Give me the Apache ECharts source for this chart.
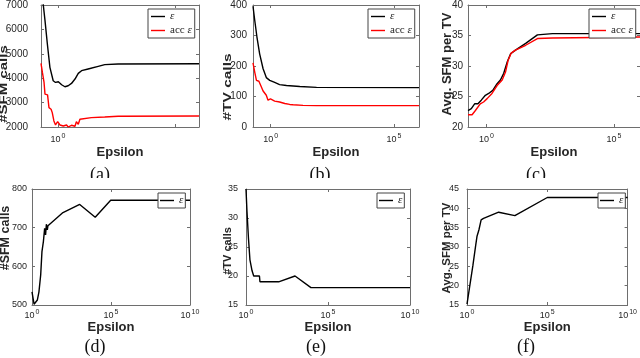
<!DOCTYPE html>
<html><head><meta charset="utf-8">
<script src="https://cdn.jsdelivr.net/npm/echarts@6/dist/echarts.min.js"></script>
<style>html,body{margin:0;padding:0;background:#fff}#c{width:640px;height:358px}</style>
</head><body><div id="c"></div>
<script>
// ---- data (x stored as log10(epsilon)) ----
const logEpsA_eps = [-0.72,-0.55,-0.45,-0.34,-0.20,-0.10,0.02,0.16,0.30,0.44,0.58,0.73,0.87,1.01,1.29,1.72,2.00,2.57,6.02];
const sfmA_eps    = [7850,6370,5410,4445,3896,3826,3855,3731,3650,3690,3785,3966,4197,4308,4378,4486,4556,4585,4590];
const logEpsA_acc = [-0.72,-0.66,-0.59,-0.55,-0.44,-0.38,-0.29,-0.24,-0.17,-0.10,-0.01,0.09,0.23,0.37,0.44,0.58,0.73,0.79,0.87,0.94,1.01,1.43,2.00,2.57,6.02];
const sfmA_acc    = [4609,4238,3826,3348,3319,2795,2730,2590,2247,2082,2218,2082,2041,2082,2000,2070,2029,2218,2110,2317,2359,2383,2410,2440,2450];

const logEpsB_eps = [-0.72,-0.65,-0.56,-0.45,-0.31,-0.18,-0.04,0.16,0.36,0.64,1.18,1.86,6.02];
const tvB_eps     = [396,350,295,240,191,162,153,146,139,136,133,130,129];
const logEpsB_acc = [-0.72,-0.65,-0.58,-0.48,-0.41,-0.31,-0.24,-0.18,-0.11,-0.01,0.16,0.36,0.57,0.77,0.84,0.91,1.31,1.86,6.02];
const tvB_acc     = [210,180,153,150,137,118,115,104,88,92,85,82,77,74,68,73,71,70,70];

const logEpsC_eps = [-0.72,-0.59,-0.46,-0.33,-0.20,-0.04,0.09,0.25,0.42,0.55,0.68,0.82,0.95,1.14,1.54,2.00,2.59,6.02];
const avgC_eps    = [22.7,23.0,23.8,23.8,24.4,25.2,25.5,26.0,27.1,27.7,28.8,30.7,32.0,32.6,33.7,35.1,35.3,35.3];
const logEpsC_acc = [-0.72,-0.56,-0.43,-0.24,-0.11,0.03,0.22,0.42,0.62,0.75,0.85,0.97,1.14,1.54,2.00,2.59,6.02];
const avgC_acc    = [22.0,22.0,22.7,23.8,24.1,24.65,25.5,26.8,27.7,29.0,30.9,32.1,32.6,33.4,34.5,34.6,34.75];

const logEpsD = [0,0.13,0.21,0.34,0.44,0.55,0.63,0.72,0.80,0.86,0.91,0.97,1.01,1.96,3.02,4.0,4.98,10];
const sfmD    = [534,502,504,513,534,578,638,664,698,681,709,694,705,739,760,727,771,771];

const logEpsE = [0,0.06,0.15,0.24,0.37,0.47,0.82,0.85,1.99,2.99,3.96,10];
const tvE     = [35,31.1,26.5,22.8,20.9,20,20,19,19,20,18,18];

const logEpsF = [0,0.37,0.53,0.62,0.74,0.88,1.03,1.97,2.98,5.0,10];
const avgF    = [15.2,25.3,30.1,32.7,34.4,37.0,37.4,39.0,38.1,42.8,42.8];

const topXRange = [-0.72, 6.02];
const botXRange = [0, 10];
const yLabels = ['#SFM calls','#TV calls','Avg. SFM per TV','#SFM calls','#TV calls','Avg. SFM per TV'];
const captions = ['(a)','(b)','(c)','(d)','(e)','(f)'];
const yRanges = [[2000,7000,1000],[0,400,100],[20,40,5],[500,800,100],[15,35,5],[15,45,5]];

// ---- layout ----
const grids = [
  {left:41, top:5, width:158, height:122},
  {left:253, top:5, width:166, height:122},
  {left:468, top:5, width:172, height:122},
  {left:32, top:189, width:158, height:116},
  {left:246, top:189, width:164, height:116},
  {left:467, top:189, width:162, height:116}
];
const axisColor = '#6e6e6e';
const txtColor = '#262626';
const FONT = 'Liberation Sans';
const pair = (xs, ys) => xs.map((x, i) => [x, ys[i]]);

const xAxes = [], yAxes = [];
const yMargins = [13,6,5,5,8,8];
grids.forEach((g, i) => {
  const top = i < 3;
  const rng = top ? topXRange : botXRange;
  const tickVals = top ? [0,5] : [0,5,10];
  const labVals = i === 0 ? [0] : tickVals;
  xAxes.push({
    type:'value', gridIndex:i, min:rng[0], max:rng[1], position:'bottom',
    axisLine:{onZero:false, lineStyle:{color:axisColor, width:1}},
    axisTick:{inside:true, length:3, customValues:tickVals, lineStyle:{color:axisColor}},
    axisLabel:{customValues:labVals, margin:top ? 6 : 4, color:txtColor,
      formatter:v => '{b|10}{s|' + Math.round(v) + '}',
      rich:{b:{fontSize:9, fontFamily:FONT, color:txtColor},
            s:{fontSize:7, fontFamily:FONT, color:txtColor, padding:[0,0,6,1]}}},
    splitLine:{show:false},
    name:'Epsilon', nameLocation:'middle', nameGap: top ? 19 : 16,
    nameTextStyle:{fontFamily:FONT, fontWeight:'bold', fontSize:13, color:txtColor}
  });
  xAxes.push({
    type:'value', gridIndex:i, min:rng[0], max:rng[1], position:'top',
    axisLine:{onZero:false, lineStyle:{color:axisColor, width:1}},
    axisTick:{inside:true, length:3, customValues:tickVals, lineStyle:{color:axisColor}},
    axisLabel:{show:false}, splitLine:{show:false}
  });
  const yr = yRanges[i];
  yAxes.push({
    type:'value', gridIndex:i, min:yr[0], max:yr[1], interval:yr[2], position:'left',
    axisLine:{show:true, onZero:false, lineStyle:{color:axisColor, width:1}},
    axisTick:{show:true, inside:true, length:3, lineStyle:{color:axisColor}},
    axisLabel:{margin:yMargins[i], fontFamily:FONT, fontSize: top?10:9, color:txtColor,
      formatter:v => String(v)},
    splitLine:{show:false}
  });
  yAxes.push({
    type:'value', gridIndex:i, min:yr[0], max:yr[1], interval:yr[2], position:'right',
    axisLine:{show:true, onZero:false, lineStyle:{color:axisColor, width:1}},
    axisTick:{show:true, inside:true, length:3, lineStyle:{color:axisColor}},
    axisLabel:{show:false}, splitLine:{show:false}
  });
});

function line(name, gi, data, color) {
  return {type:'line', name, xAxisIndex:gi*2, yAxisIndex:gi*2, data, symbol:'none',
    showSymbol:false, clip:true, animation:false,
    lineStyle:{color, width:1.4}, itemStyle:{color}};
}
const series = [
  line('eps', 0, pair(logEpsA_eps, sfmA_eps), '#000'),
  line('acc', 0, pair(logEpsA_acc, sfmA_acc), '#ff0000'),
  line('eps', 1, pair(logEpsB_eps, tvB_eps), '#000'),
  line('acc', 1, pair(logEpsB_acc, tvB_acc), '#ff0000'),
  line('eps', 2, pair(logEpsC_eps, avgC_eps), '#000'),
  line('acc', 2, pair(logEpsC_acc, avgC_acc), '#ff0000'),
  line('eps', 3, pair(logEpsD, sfmD), '#000'),
  line('eps', 4, pair(logEpsE, tvE), '#000'),
  line('eps', 5, pair(logEpsF, avgF), '#000')
];

const legRich = {r:{fontFamily:'Liberation Serif', fontSize:11, color:txtColor},
                 i:{fontFamily:'Liberation Serif', fontStyle:'italic', fontSize:11, color:txtColor}};
const lineIcon = 'path://M0,0 L20,0 L20,2 L0,2 Z';
function legend(left, top, names, pad) {
  return {left, top, orient:'vertical', data:names, selectedMode:false,
    icon: lineIcon, itemWidth:14, itemHeight:10, itemGap:3, padding:pad || [2,4,2,4],
    backgroundColor:'#fff', borderColor:'#444', borderWidth:1,
    formatter:n => n === 'acc' ? '{r|acc }{i|ε}' : '{i|ε}',
    textStyle:{rich:legRich, fontSize:11}};
}
const legends = [
  legend(148, 9, ['eps','acc'], [2,3,2,3]),
  legend(368, 9, ['eps','acc'], [2,3,2,3]),
  legend(589, 9, ['eps','acc'], [2,3,2,3]),
  legend(158, 193, ['eps'], [2,2,2,2]),
  legend(377, 193, ['eps'], [2,2,2,2]),
  legend(598, 193, ['eps'], [2,2,2,2])
];

// [centerX, centerY, fontSize, thickness scale]
const yLabPos = [[4,84,15,0.72],[227.5,87,15.5,0.72],[447,64,13,1],[6,238,12.5,1],[227.5,251,11,1],[447,248,11.5,1]];
const capPos = [[100,175],[320,175],[536,175],[95,347],[316,347],[526,347]];
const graphic = [];
yLabels.forEach((t, i) => {
  const p = yLabPos[i];
  graphic.push({type:'group', x:p[0], y:p[1], rotation:Math.PI/2, z:10,
    children:[{type:'text', x:0, y:0, scaleX:1, scaleY:p[3], scale:[1, p[3]], z:10,
      style:{text:t, font:'bold ' + p[2] + 'px ' + FONT, fill:txtColor, align:'center', verticalAlign:'middle'}}]});
});
captions.forEach((t, i) => {
  const p = capPos[i];
  graphic.push({type:'text', x:p[0], y:p[1], z:10,
    style:{text:t, font:'18px Liberation Serif', fill:'#111', align:'center', verticalAlign:'middle'}});
});
graphic.push({type:'rect', z:20, shape:{x:0, y:178, width:640, height:6}, style:{fill:'#fff'}});

const chart = echarts.init(document.getElementById('c'), null, {renderer:'canvas'});
chart.setOption({
  animation:false, backgroundColor:'#fff',
  grid: grids.map(g => Object.assign({show:false}, g)),
  xAxis: xAxes, yAxis: yAxes, series, legend: legends, graphic
});
</script>
</body></html>
